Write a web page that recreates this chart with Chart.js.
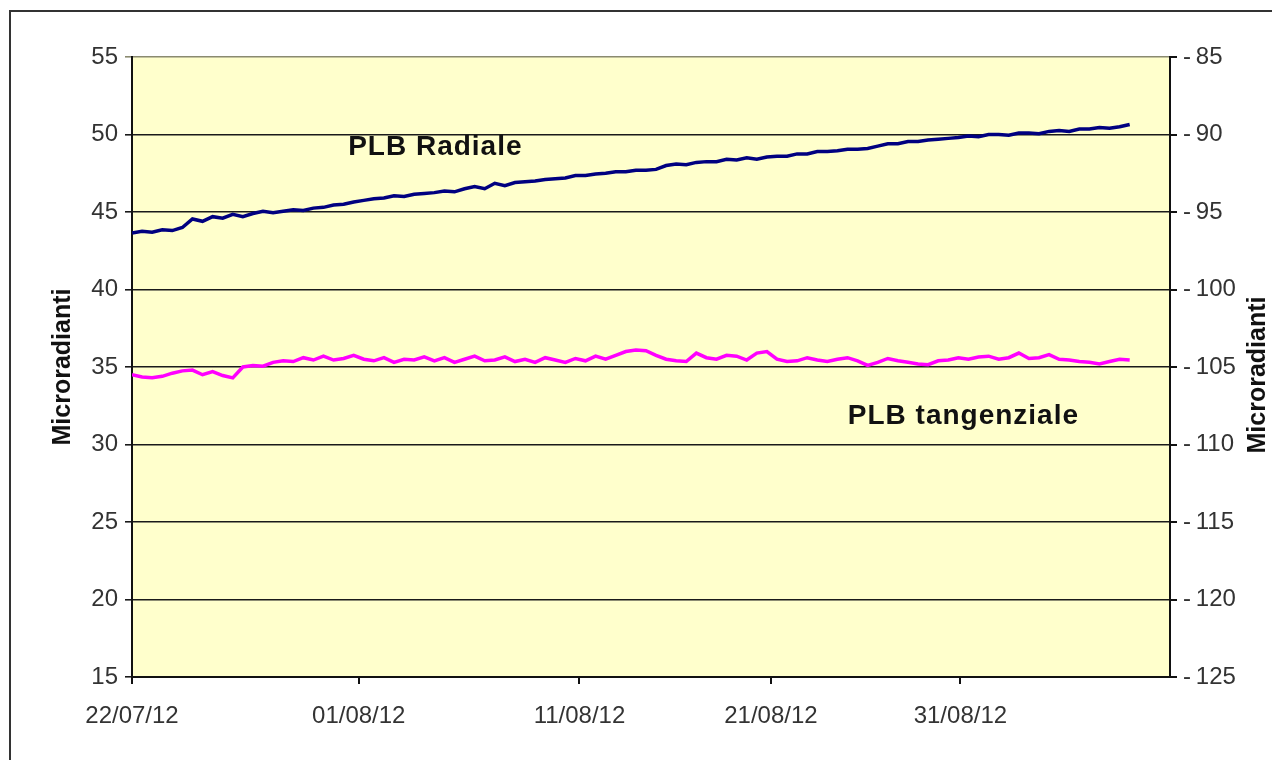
<!DOCTYPE html>
<html>
<head>
<meta charset="utf-8">
<script src="https://cdn.jsdelivr.net/npm/chart.js@4/dist/chart.umd.min.js"></script>
<style>
  html, body { margin: 0; padding: 0; background: #fff; }
  #frame {
    position: absolute; left: 9px; top: 10px; width: 1300px; height: 800px;
    border-left: 2px solid #333; border-top: 2px solid #333;
  }
  #chart { position: absolute; left: 0; top: 0; }
</style>
</head>
<body>
<div id="frame"></div>
<canvas id="chart" width="1272" height="760"></canvas>
<script>
// date labels and the sample index where each of those days starts
const dateLabels = ["22/07/12", "01/08/12", "11/08/12", "21/08/12", "31/08/12"];
const dayStartIdx = [0, 22.5, 44.4, 63.4, 82.2];

// PLB Radiale (left axis, microradianti)
const radiale = [
  43.65, 43.75, 43.7, 43.85, 43.8, 44.0, 44.55, 44.4, 44.7, 44.6,
  44.85, 44.7, 44.9, 45.05, 44.95, 45.05, 45.15, 45.1, 45.25, 45.3,
  45.45, 45.5, 45.65, 45.75, 45.85, 45.9, 46.05, 46.0, 46.15, 46.2,
  46.25, 46.35, 46.3, 46.5, 46.65, 46.5, 46.85, 46.7, 46.9, 46.95,
  47.0, 47.1, 47.15, 47.2, 47.35, 47.35, 47.45, 47.5, 47.6, 47.6,
  47.7, 47.7, 47.75, 48.0, 48.1, 48.05, 48.2, 48.25, 48.25, 48.4,
  48.35, 48.5, 48.4, 48.55, 48.6, 48.6, 48.75, 48.75, 48.9, 48.9,
  48.95, 49.05, 49.05, 49.1, 49.25, 49.4, 49.4, 49.55, 49.55, 49.65,
  49.7, 49.75, 49.8, 49.9, 49.85, 50.0, 50.0, 49.95, 50.1, 50.1,
  50.05, 50.2, 50.25, 50.2, 50.35, 50.35, 50.45, 50.4, 50.5, 50.65
];

// PLB tangenziale (right axis, microradianti)
const tangenziale = [
  -105.5, -105.65, -105.7, -105.6, -105.4, -105.25, -105.2, -105.5, -105.3, -105.55,
  -105.7, -105.0, -104.9, -104.95, -104.7, -104.6, -104.65, -104.4, -104.55, -104.3,
  -104.55, -104.45, -104.25, -104.5, -104.6, -104.4, -104.7, -104.5, -104.55, -104.35,
  -104.6, -104.4, -104.7, -104.5, -104.3, -104.6, -104.55, -104.35, -104.65, -104.5,
  -104.7, -104.4, -104.55, -104.7, -104.45, -104.6, -104.3, -104.5, -104.25, -104.0,
  -103.9, -103.95, -104.25, -104.5, -104.6, -104.65, -104.1, -104.4, -104.5, -104.25,
  -104.3, -104.55, -104.1, -104.0, -104.5, -104.65, -104.6, -104.4, -104.55, -104.65,
  -104.5, -104.4, -104.6, -104.9, -104.7, -104.45, -104.6, -104.7, -104.8, -104.85,
  -104.6, -104.55, -104.4, -104.5, -104.35, -104.3, -104.5, -104.4, -104.1, -104.45,
  -104.4, -104.2, -104.5, -104.55, -104.65, -104.7, -104.8, -104.65, -104.5, -104.55
];

const seriesLabels = ["PLB Radiale", "PLB tangenziale"];
const axisTitle = "Microradianti";

const tickFont = { family: "'Liberation Sans', Arial, sans-serif", size: 24 };

const plotBackground = {
  id: "plotBackground",
  beforeDraw(chart) {
    const { ctx, chartArea: a } = chart;
    ctx.save();
    ctx.fillStyle = "#FFFFCC";
    ctx.fillRect(a.left, a.top, a.right - a.left, a.bottom - a.top);
    ctx.restore();
  }
};

// series names written inside the plot, and the right axis title
const seriesNames = {
  id: "seriesNames",
  afterDatasetsDraw(chart) {
    const { ctx, scales } = chart;
    ctx.save();
    ctx.fillStyle = "#111";
    ctx.font = "bold 28px 'Liberation Sans', Arial, sans-serif";
    ctx.letterSpacing = "1px";
    ctx.textAlign = "center";
    ctx.textBaseline = "middle";
    ctx.fillText(seriesLabels[0], scales.x.getPixelForValue(30.1), scales.y.getPixelForValue(49.2));
    ctx.fillText(seriesLabels[1], scales.x.getPixelForValue(82.5), scales.y.getPixelForValue(31.8));

    const yr = scales.y2;
    ctx.letterSpacing = "0px";
    ctx.font = "bold 25px 'Liberation Sans', Arial, sans-serif";
    ctx.translate(1258, (yr.top + yr.bottom) / 2 + 8);
    ctx.rotate(-Math.PI / 2);
    ctx.fillText(axisTitle, 0, 0);
    ctx.restore();
  }
};

new Chart(document.getElementById("chart"), {
  type: "line",
  data: {
    datasets: [
      {
        label: seriesLabels[0],
        data: radiale.map((v, i) => ({ x: i, y: v })),
        yAxisID: "y",
        borderColor: "#000080",
        borderWidth: 3.5,
        pointRadius: 0,
        tension: 0
      },
      {
        label: seriesLabels[1],
        data: tangenziale.map((v, i) => ({ x: i, y: v })),
        yAxisID: "y2",
        borderColor: "#FF00FF",
        borderWidth: 3.5,
        pointRadius: 0,
        tension: 0
      }
    ]
  },
  options: {
    responsive: false,
    animation: false,
    layout: { padding: { top: 57, left: 0, right: 0, bottom: 0 } },
    plugins: {
      legend: { display: false },
      tooltip: { enabled: false }
    },
    scales: {
      x: {
        type: "linear",
        min: 0,
        max: 103,
        afterBuildTicks: (scale) => {
          scale.ticks = dayStartIdx.map((v) => ({ value: v }));
        },
        afterFit: (scale) => { scale.height = 83; },
        ticks: {
          callback: (v, i) => dateLabels[i],
          autoSkip: false,
          maxRotation: 0,
          padding: 18,
          color: "#333",
          font: tickFont
        },
        grid: { drawOnChartArea: false, drawTicks: true, tickLength: 7, color: "#111", lineWidth: 2 },
        border: { display: true, color: "#111", width: 2 }
      },
      y: {
        position: "left",
        min: 15,
        max: 55,
        afterFit: (scale) => { scale.width = 132; },
        ticks: { stepSize: 5, padding: 7, color: "#333", font: tickFont },
        grid: {
          drawTicks: true,
          tickLength: 7,
          color: (c) => (c.tick && c.tick.value === 55 ? "#8a8a70" : "#1a1a1a"),
          lineWidth: 1.6
        },
        border: { display: true, color: "#111", width: 2 },
        title: {
          display: true,
          text: axisTitle,
          color: "#111",
          font: { family: "'Liberation Sans', Arial, sans-serif", size: 25, weight: "bold" },
          padding: { top: 48, bottom: 0 }
        }
      },
      y2: {
        position: "right",
        min: -125,
        max: -85,
        afterFit: (scale) => { scale.width = 102; },
        ticks: {
          stepSize: 5,
          padding: 6,
          color: "#333",
          font: tickFont,
          callback: (v) => "-\u2009" + Math.abs(v)
        },
        grid: { drawOnChartArea: false, drawTicks: true, tickLength: 7, color: "#111", lineWidth: 2 },
        border: { display: true, color: "#111", width: 2 }
      }
    }
  },
  plugins: [plotBackground, seriesNames]
});
</script>
</body>
</html>
